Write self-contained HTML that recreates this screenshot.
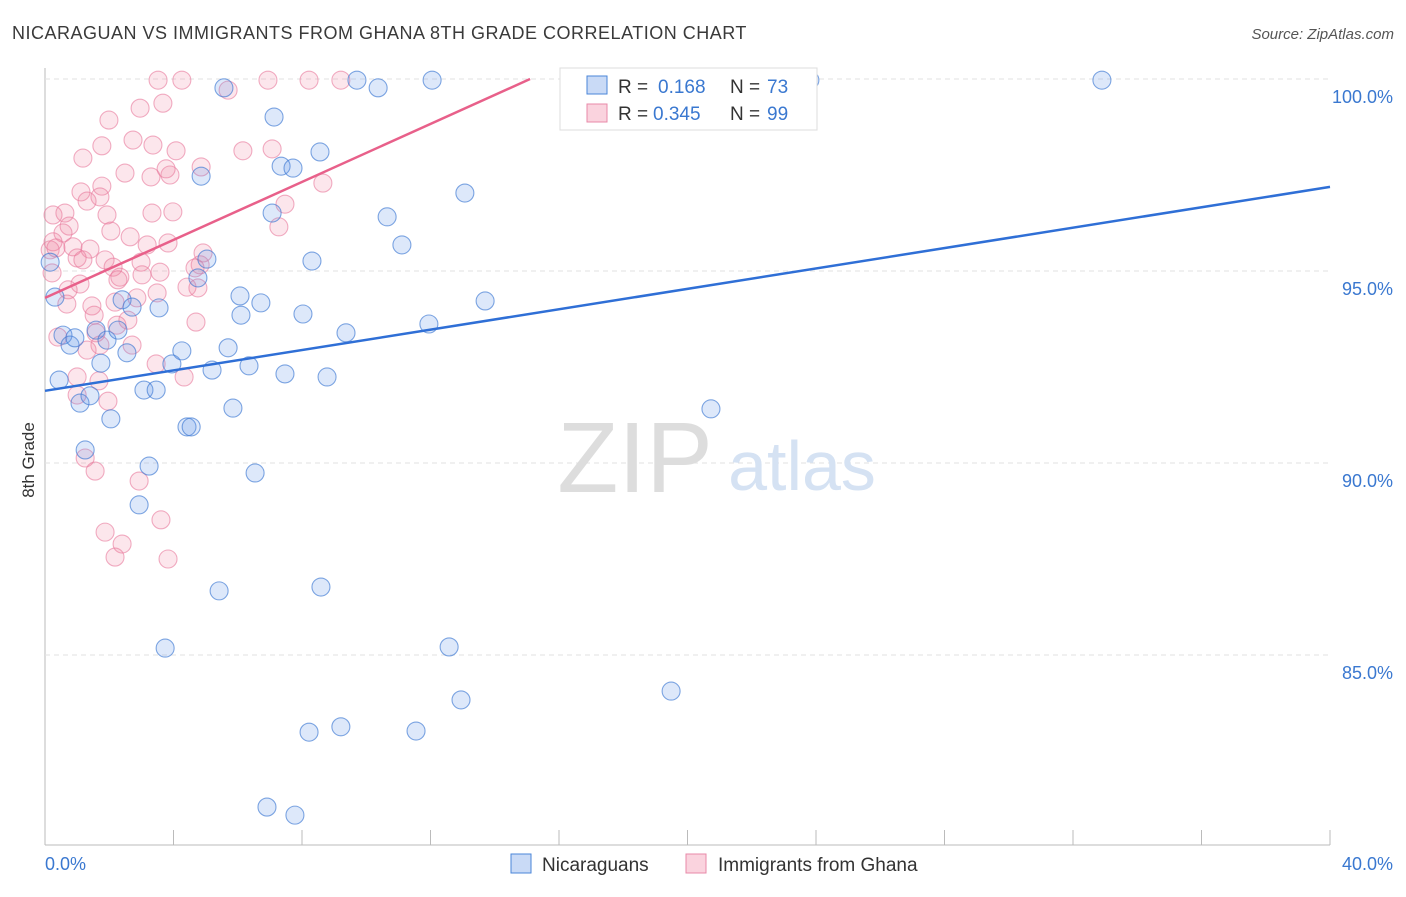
<!DOCTYPE html>
<html><head><meta charset="utf-8"><style>
body{margin:0;background:#fff;font-family:"Liberation Sans",sans-serif}
svg text{font-family:"Liberation Sans",sans-serif}
</style></head><body>
<svg id="c" width="1406" height="892">
<text x="12" y="39" font-size="18" letter-spacing="0.5" fill="#3a3a3a">NICARAGUAN VS IMMIGRANTS FROM GHANA 8TH GRADE CORRELATION CHART</text>
<text x="1394" y="39" font-size="15" fill="#555" text-anchor="end" font-style="italic">Source: ZipAtlas.com</text>
<text x="34" y="460" font-size="17" fill="#333" transform="rotate(-90 34 460)" text-anchor="middle">8th Grade</text>
<g id="grid"></g>
<text x="635" y="492" font-size="100" fill="#ddd" font-family="Liberation Serif" text-anchor="middle">ZIP</text>
<text x="802" y="490" font-size="70" fill="#d5e2f3" text-anchor="middle">atlas</text>
<g id="pts"></g>
<g id="lines"></g>
<g>
<rect x="560" y="68" width="257" height="62" fill="#fff" stroke="#ddd"/>
<rect x="587" y="76" width="20" height="18" fill="rgba(100,150,230,0.35)" stroke="#4a86d8"/>
<text x="618" y="93" font-size="19" fill="#333">R =</text>
<text x="658" y="93" font-size="19" fill="#3a78d0">0.168</text>
<text x="730" y="93" font-size="19" fill="#333">N =</text>
<text x="767" y="93" font-size="19" fill="#3a78d0">73</text>
<rect x="587" y="104" width="20" height="18" fill="rgba(240,130,160,0.35)" stroke="#e88aa8"/>
<text x="618" y="120" font-size="19" fill="#333">R =</text>
<text x="653" y="120" font-size="19" fill="#3a78d0">0.345</text>
<text x="730" y="120" font-size="19" fill="#333">N =</text>
<text x="767" y="120" font-size="19" fill="#3a78d0">99</text>
</g>
<g>
<rect x="511" y="854" width="20" height="19" fill="rgba(100,150,230,0.35)" stroke="#4a86d8"/>
<text x="542" y="871" font-size="19" fill="#333">Nicaraguans</text>
<rect x="686" y="854" width="20" height="19" fill="rgba(240,130,160,0.35)" stroke="#e88aa8"/>
<text x="718" y="871" font-size="19" fill="#333">Immigrants from Ghana</text>
</g>
</svg>
<script>
const xTickLabels=["0.0%","40.0%"];
const yTicks=[85,90,95,100];
const blueX=[0.31,0.44,0.56,0.78,0.93,1.25,1.09,1.40,1.59,1.74,1.93,2.05,2.27,2.40,2.55,2.71,2.93,3.08,3.24,3.46,3.55,3.74,3.95,4.26,4.42,4.55,4.76,4.86,5.04,5.20,5.42,5.70,5.85,5.57,6.07,6.10,6.35,6.54,6.72,6.91,7.07,7.13,7.35,7.47,7.72,7.78,8.03,8.22,8.31,8.56,8.59,8.78,9.21,9.37,9.71,10.37,10.65,11.11,11.55,11.95,12.05,12.58,12.95,13.07,13.70,16.87,19.49,20.73,21.01,23.81,32.90,0.16];
const blueY=[94.32,92.16,93.33,93.07,93.26,90.34,91.56,91.75,93.46,92.60,93.20,91.15,93.46,94.25,92.87,94.06,88.91,91.90,89.92,91.90,94.04,85.18,92.58,92.92,90.94,90.94,94.82,97.47,95.31,92.42,86.67,93.00,91.43,99.77,94.35,93.85,92.53,89.74,94.17,81.04,96.51,99.01,97.73,92.32,97.68,80.83,93.88,82.99,95.26,98.10,86.77,92.24,83.13,93.39,99.97,99.77,96.41,95.68,83.02,93.62,99.97,85.21,83.83,97.03,94.22,99.97,84.06,91.41,99.97,99.97,99.97,95.23];
const pinkX=[3.52,4.26,6.94,8.22,9.21,5.70,2.96,3.67,1.99,2.74,3.36,4.08,1.77,1.18,6.16,7.07,2.49,3.30,3.89,3.77,4.86,8.65,1.12,1.77,1.71,1.31,1.93,2.05,2.65,3.33,3.98,7.47,7.28,0.25,0.62,0.75,0.56,0.25,0.16,0.34,0.87,1.40,1.00,1.18,1.87,2.12,2.33,2.99,3.18,3.83,4.92,4.83,4.67,2.27,3.02,3.58,4.42,4.76,1.09,0.72,0.22,0.68,2.86,3.49,2.18,1.46,1.53,2.58,2.24,1.59,0.40,1.31,1.71,2.71,4.70,3.46,4.33,1.00,1.68,1.00,1.96,1.25,1.56,2.93,3.61,1.87,2.40,2.18,3.83];
const pinkY=[99.97,99.97,99.97,99.97,99.97,99.71,99.24,99.37,98.93,98.41,98.28,98.13,98.26,97.94,98.13,98.18,97.55,97.45,97.50,97.66,97.71,97.29,97.06,97.21,96.93,96.82,96.46,96.04,95.89,96.51,96.54,96.74,96.15,96.46,96.51,96.17,95.99,95.76,95.55,95.60,95.63,95.57,95.34,95.29,95.29,95.10,94.84,95.23,95.68,95.73,95.47,95.16,95.08,94.77,94.90,94.97,94.58,94.56,94.66,94.51,94.95,94.14,94.30,94.43,94.19,94.09,93.85,93.72,93.59,93.39,93.28,92.94,93.07,93.07,93.67,92.58,92.24,92.24,92.14,91.77,91.61,90.13,89.79,89.53,88.52,88.20,87.89,87.55,87.50];
const blueTrend=[91.88,97.19]; // y at x=0 and x=40
const pinkTrend=[94.30,0.3775]; // intercept, slope
const NS="http://www.w3.org/2000/svg";
const X=v=>45+v/40*1285, Y=v=>79+(100-v)*38.4;
function mk(t,a,p){const e=document.createElementNS(NS,t);for(const k in a)e.setAttribute(k,a[k]);p.appendChild(e);return e;}
const g=document.getElementById('grid');
mk('line',{x1:45,y1:68,x2:45,y2:845,stroke:'#bbb'},g);
mk('line',{x1:45,y1:845,x2:1330,y2:845,stroke:'#bbb'},g);
for(let i=0;i<=10;i++){const l=mk('line',{x1:X(i*4),y1:830,x2:X(i*4),y2:845,stroke:'#bbb'},g);

}
yTicks.forEach(t=>{const l=mk('line',{x1:45,y1:Y(t),x2:1330,y2:Y(t),stroke:'#e2e2e2','stroke-dasharray':'5,4'},g);


const tx=mk('text',{x:1393,y:Y(t)+24,'font-size':18,fill:'#3a78d0','text-anchor':'end'},g);tx.textContent=t.toFixed(1)+'%';

});
xTickLabels.forEach((s,i)=>{const tx=mk('text',{x:i?1393:45,y:870,'font-size':18,fill:'#3a78d0','text-anchor':i?'end':'start'},g);tx.textContent=s;

});
const p=document.getElementById('pts');
pinkX.forEach((x,i)=>{const c=mk('circle',{cx:X(x),cy:Y(pinkY[i]),r:9,fill:'rgba(240,130,160,0.2)',stroke:'rgba(232,120,155,0.6)','stroke-width':1.1},p);

});
blueX.forEach((x,i)=>{const c=mk('circle',{cx:X(x),cy:Y(blueY[i]),r:9,fill:'rgba(100,150,230,0.22)',stroke:'rgba(60,120,210,0.65)','stroke-width':1.1},p);

});
const L=document.getElementById('lines');
const bl=mk('line',{x1:X(0),y1:Y(blueTrend[0]),x2:X(40),y2:Y(blueTrend[1]),stroke:'#2f6fd6','stroke-width':2.5},L);


const xe=(100-pinkTrend[0])/pinkTrend[1];
const pl=mk('line',{x1:X(0),y1:Y(pinkTrend[0]),x2:X(xe),y2:Y(100),stroke:'#e8608a','stroke-width':2.5},L);


</script>
</body></html>
